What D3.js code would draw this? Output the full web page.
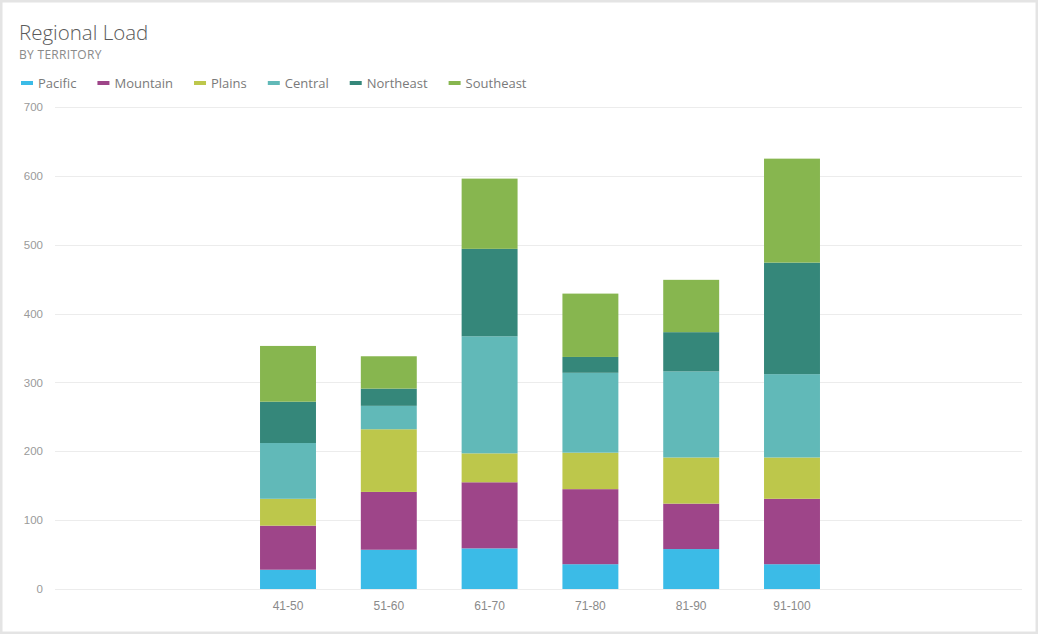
<!DOCTYPE html>
<html>
<head>
<meta charset="utf-8">
<script src="https://cdn.jsdelivr.net/npm/d3@7"></script>
<style>
  html, body { margin: 0; padding: 0; background: #fff; }
  svg { display: block; font-family: "Open Sans", "Noto Sans", sans-serif; }
</style>
</head>
<body>
<svg id="chart" width="1038" height="634"></svg>
<script>
const categories = ["41-50", "51-60", "61-70", "71-80", "81-90", "91-100"];
const seriesNames = ["Pacific", "Mountain", "Plains", "Central", "Northeast", "Southeast"];
const pacific   = [28, 57, 59, 36, 58, 36];
const mountain  = [64, 84, 96, 109, 66, 95];
const plains    = [39, 91, 42, 53, 67, 60];
const central   = [81, 34, 170, 116, 125, 121];
const northeast = [60, 25, 127, 23, 57, 162];
const southeast = [81, 47, 102, 92, 76, 151];
const yTicks = [0, 100, 200, 300, 400, 500, 600, 700];
const colors = ["#3bbbe7", "#9e4589", "#bdc74b", "#61b9b8", "#35877a", "#87b64f"];

const seriesValues = [pacific, mountain, plains, central, northeast, southeast];
const rows = categories.map((c, i) => {
  const r = { category: c };
  seriesNames.forEach((s, j) => r[s] = seriesValues[j][i]);
  return r;
});

const svg = d3.select("#chart");
const W = 1038, H = 634;

// frame
svg.append("rect").attr("x", 1).attr("y", 1).attr("width", W - 2).attr("height", H - 2)
  .attr("fill", "#fff").attr("stroke", "#e4e4e4").attr("stroke-width", 3);

const plot = { left: 55, right: 1022, top: 107, bottom: 589 };

const y = d3.scaleLinear().domain([0, 700]).range([plot.bottom, plot.top]);
const center = (plot.left + plot.right) / 2 + 1.5;
const step = 100.8;
const x = d3.scaleBand().domain(categories)
  .range([center - step * 3, center + step * 3])
  .paddingInner(0.445).paddingOuter(0.2225);

// gridlines
const grid = svg.append("g").attr("class", "grid");
grid.selectAll("line").data(yTicks).join("line")
  .attr("x1", plot.left).attr("x2", plot.right)
  .attr("y1", d => Math.round(y(d)) + 0.5).attr("y2", d => Math.round(y(d)) + 0.5)
  .attr("stroke", "#ececec").attr("stroke-width", 1);

// y axis labels
const yAxis = d3.axisLeft(y).tickValues(yTicks).tickSize(0).tickPadding(0).tickFormat(d3.format("d"));
const gy = svg.append("g").attr("transform", `translate(43,0)`).call(yAxis);
gy.select(".domain").remove();
gy.selectAll("text").attr("fill", "#9a9a9a").style("font-size", "11.5px");

// stacked bars
const stack = d3.stack().keys(seriesNames);
const stacked = stack(rows);
svg.append("g").selectAll("g").data(stacked).join("g")
  .attr("fill", (d, i) => colors[i])
  .selectAll("rect").data(d => d).join("rect")
  .attr("x", d => x(d.data.category))
  .attr("width", x.bandwidth())
  .attr("y", d => y(d[1]))
  .attr("height", d => y(d[0]) - y(d[1]));

// x axis labels
const xAxis = d3.axisBottom(x).tickSize(0).tickPadding(0);
const gx = svg.append("g").attr("transform", `translate(0,${plot.bottom + 12})`).call(xAxis);
gx.select(".domain").remove();
gx.selectAll("text").attr("fill", "#8a8a8a").style("font-size", "12px").attr("dy", "0.71em");

// title
svg.append("text").attr("x", 19).attr("y", 40).text("Regional Load")
  .attr("fill", "#5a5a5a").style("font-size", "20.5px").style("font-weight", 300);
svg.append("text").attr("x", 19).attr("y", 59).text("BY TERRITORY")
  .attr("fill", "#8a8a8a").style("font-size", "12px").style("letter-spacing", "0.3px");

// legend
const legend = svg.append("g").attr("transform", "translate(21,83)");
let lx = 0;
seriesNames.forEach((s, i) => {
  const g = legend.append("g").attr("transform", `translate(${lx},0)`);
  g.append("rect").attr("x", 0).attr("y", -2).attr("width", 12).attr("height", 4).attr("fill", colors[i]);
  const t = g.append("text").attr("x", 17).attr("y", 0).attr("dy", "0.35em").text(s)
    .attr("fill", "#7a7a7a").style("font-size", "13px");
  lx += 17 + t.node().getComputedTextLength() + 21;
});
</script>
</body>
</html>
